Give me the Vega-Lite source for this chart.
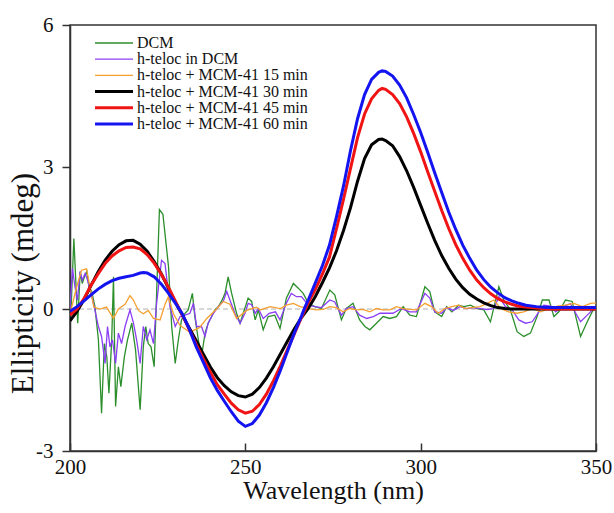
{
  "$schema": "https://vega.github.io/schema/vega-lite/v6.json",
  "width": 526,
  "height": 426,
  "autosize": {"type": "none"},
  "padding": {"left": 70, "top": 25, "right": 18, "bottom": 62},
  "background": "white",
  "config": {
    "view": {"stroke": "#333333", "strokeWidth": 1.5},
    "axis": {"labelFont": "Liberation Serif", "titleFont": "Liberation Serif", "labelColor": "#111111", "titleColor": "#111111", "titleFontWeight": "normal", "domainColor": "#333333", "tickColor": "#333333", "domainWidth": 1.5, "tickWidth": 1.5, "grid": false, "labelFlush": false},
    "legend": {"orient": "none", "legendX": 36, "legendY": 10, "padding": 0, "labelFont": "Liberation Serif", "labelFontSize": 16, "labelColor": "#111111", "labelOffset": 15, "rowPadding": 0.2, "symbolType": "M-4,0H4", "symbolSize": 90, "labelLimit": 400}
  },
  "datasets": {
    "zero": [{"y": 0}],
    "cd": [
      {"s":"DCM","x":200.0,"y":0.0},{"s":"DCM","x":200.3,"y":-0.02},{"s":"DCM","x":201.1,"y":1.49},{"s":"DCM","x":202.2,"y":-0.3},{"s":"DCM","x":202.9,"y":0.79},{"s":"DCM","x":203.5,"y":0.54},{"s":"DCM","x":204.1,"y":0.68},{"s":"DCM","x":204.8,"y":0.79},{"s":"DCM","x":205.4,"y":0.47},{"s":"DCM","x":206.2,"y":0.37},{"s":"DCM","x":207.1,"y":0.05},{"s":"DCM","x":208.1,"y":-0.65},{"s":"DCM","x":209.0,"y":-2.2},{"s":"DCM","x":209.8,"y":-0.73},{"s":"DCM","x":210.5,"y":-1.01},{"s":"DCM","x":211.1,"y":-1.78},{"s":"DCM","x":211.9,"y":-0.65},{"s":"DCM","x":212.4,"y":0.68},{"s":"DCM","x":213.0,"y":-2.06},{"s":"DCM","x":213.8,"y":-1.22},{"s":"DCM","x":214.5,"y":-1.64},{"s":"DCM","x":215.5,"y":-1.01},{"s":"DCM","x":216.4,"y":-0.65},{"s":"DCM","x":217.6,"y":-0.3},{"s":"DCM","x":218.7,"y":-0.87},{"s":"DCM","x":220.0,"y":-2.13},{"s":"DCM","x":220.9,"y":-0.8},{"s":"DCM","x":221.6,"y":-0.37},{"s":"DCM","x":222.3,"y":-0.73},{"s":"DCM","x":223.1,"y":-0.8},{"s":"DCM","x":224.0,"y":-1.22},{"s":"DCM","x":225.5,"y":2.1},{"s":"DCM","x":226.5,"y":2.0},{"s":"DCM","x":228.1,"y":0.89},{"s":"DCM","x":229.0,"y":-0.37},{"s":"DCM","x":230.0,"y":-1.15},{"s":"DCM","x":230.9,"y":-0.65},{"s":"DCM","x":231.8,"y":-0.23},{"s":"DCM","x":232.8,"y":-0.09},{"s":"DCM","x":233.7,"y":-0.02},{"s":"DCM","x":234.9,"y":0.33},{"s":"DCM","x":235.6,"y":-0.16},{"s":"DCM","x":236.6,"y":-0.65},{"s":"DCM","x":237.5,"y":-1.01},{"s":"DCM","x":238.5,"y":-0.51},{"s":"DCM","x":239.4,"y":-0.3},{"s":"DCM","x":240.4,"y":-0.16},{"s":"DCM","x":241.3,"y":-0.02},{"s":"DCM","x":242.3,"y":0.05},{"s":"DCM","x":243.2,"y":0.16},{"s":"DCM","x":244.2,"y":0.33},{"s":"DCM","x":245.1,"y":0.68},{"s":"DCM","x":246.1,"y":0.33},{"s":"DCM","x":247.5,"y":-0.09},{"s":"DCM","x":248.5,"y":-0.3},{"s":"DCM","x":249.4,"y":-0.09},{"s":"DCM","x":250.8,"y":0.23},{"s":"DCM","x":251.8,"y":0.16},{"s":"DCM","x":252.8,"y":-0.23},{"s":"DCM","x":253.7,"y":-0.02},{"s":"DCM","x":255.1,"y":-0.44},{"s":"DCM","x":256.5,"y":-0.16},{"s":"DCM","x":258.4,"y":-0.13},{"s":"DCM","x":259.9,"y":-0.41},{"s":"DCM","x":261.7,"y":0.23},{"s":"DCM","x":263.7,"y":0.54},{"s":"DCM","x":265.1,"y":0.44},{"s":"DCM","x":266.5,"y":0.33},{"s":"DCM","x":268.0,"y":0.12},{"s":"DCM","x":269.8,"y":0.05},{"s":"DCM","x":271.7,"y":0.01},{"s":"DCM","x":274.1,"y":0.4},{"s":"DCM","x":275.5,"y":0.3},{"s":"DCM","x":277.4,"y":-0.23},{"s":"DCM","x":278.8,"y":0.01},{"s":"DCM","x":280.7,"y":0.12},{"s":"DCM","x":282.6,"y":-0.23},{"s":"DCM","x":284.1,"y":-0.37},{"s":"DCM","x":285.5,"y":-0.44},{"s":"DCM","x":287.4,"y":-0.3},{"s":"DCM","x":289.3,"y":-0.16},{"s":"DCM","x":291.2,"y":-0.2},{"s":"DCM","x":293.1,"y":-0.16},{"s":"DCM","x":295.0,"y":0.05},{"s":"DCM","x":296.9,"y":-0.13},{"s":"DCM","x":298.8,"y":-0.16},{"s":"DCM","x":301.2,"y":0.47},{"s":"DCM","x":302.6,"y":0.37},{"s":"DCM","x":304.0,"y":-0.06},{"s":"DCM","x":306.0,"y":-0.16},{"s":"DCM","x":307.4,"y":0.05},{"s":"DCM","x":308.9,"y":-0.06},{"s":"DCM","x":310.8,"y":0.08},{"s":"DCM","x":312.3,"y":0.05},{"s":"DCM","x":314.2,"y":0.08},{"s":"DCM","x":316.1,"y":0.01},{"s":"DCM","x":318.0,"y":-0.02},{"s":"DCM","x":319.9,"y":-0.27},{"s":"DCM","x":322.3,"y":0.47},{"s":"DCM","x":323.7,"y":0.19},{"s":"DCM","x":325.6,"y":-0.02},{"s":"DCM","x":327.5,"y":-0.48},{"s":"DCM","x":329.4,"y":-0.58},{"s":"DCM","x":331.3,"y":-0.51},{"s":"DCM","x":333.2,"y":-0.16},{"s":"DCM","x":334.7,"y":0.19},{"s":"DCM","x":336.6,"y":0.19},{"s":"DCM","x":338.0,"y":-0.16},{"s":"DCM","x":339.4,"y":-0.06},{"s":"DCM","x":341.3,"y":0.19},{"s":"DCM","x":343.2,"y":0.16},{"s":"DCM","x":345.6,"y":-0.58},{"s":"DCM","x":347.5,"y":-0.27},{"s":"DCM","x":348.9,"y":-0.06},{"s":"DCM","x":350.0,"y":0.05},

      {"s":"h-teloc in DCM","x":200.0,"y":0.0},{"s":"h-teloc in DCM","x":200.7,"y":0.86},{"s":"h-teloc in DCM","x":201.4,"y":0.47},{"s":"h-teloc in DCM","x":202.1,"y":0.19},{"s":"h-teloc in DCM","x":202.9,"y":0.79},{"s":"h-teloc in DCM","x":203.5,"y":0.61},{"s":"h-teloc in DCM","x":204.3,"y":0.75},{"s":"h-teloc in DCM","x":205.0,"y":0.61},{"s":"h-teloc in DCM","x":206.0,"y":0.33},{"s":"h-teloc in DCM","x":206.9,"y":0.05},{"s":"h-teloc in DCM","x":208.1,"y":-0.37},{"s":"h-teloc in DCM","x":209.0,"y":-0.58},{"s":"h-teloc in DCM","x":210.0,"y":-1.15},{"s":"h-teloc in DCM","x":210.7,"y":-0.37},{"s":"h-teloc in DCM","x":211.4,"y":-0.8},{"s":"h-teloc in DCM","x":212.1,"y":-0.65},{"s":"h-teloc in DCM","x":213.0,"y":-1.15},{"s":"h-teloc in DCM","x":213.8,"y":-0.51},{"s":"h-teloc in DCM","x":214.7,"y":-0.73},{"s":"h-teloc in DCM","x":215.7,"y":-0.37},{"s":"h-teloc in DCM","x":217.1,"y":-0.02},{"s":"h-teloc in DCM","x":218.1,"y":-0.3},{"s":"h-teloc in DCM","x":219.0,"y":-0.65},{"s":"h-teloc in DCM","x":220.0,"y":-1.15},{"s":"h-teloc in DCM","x":220.9,"y":-0.37},{"s":"h-teloc in DCM","x":221.9,"y":-0.65},{"s":"h-teloc in DCM","x":222.8,"y":-0.44},{"s":"h-teloc in DCM","x":223.8,"y":-0.73},{"s":"h-teloc in DCM","x":224.7,"y":0.12},{"s":"h-teloc in DCM","x":226.1,"y":1.03},{"s":"h-teloc in DCM","x":227.1,"y":0.96},{"s":"h-teloc in DCM","x":228.5,"y":0.05},{"s":"h-teloc in DCM","x":230.0,"y":-0.37},{"s":"h-teloc in DCM","x":231.4,"y":-0.16},{"s":"h-teloc in DCM","x":232.8,"y":-0.13},{"s":"h-teloc in DCM","x":234.2,"y":-0.09},{"s":"h-teloc in DCM","x":235.2,"y":0.12},{"s":"h-teloc in DCM","x":236.1,"y":-0.37},{"s":"h-teloc in DCM","x":237.5,"y":-0.37},{"s":"h-teloc in DCM","x":238.5,"y":-0.58},{"s":"h-teloc in DCM","x":239.4,"y":-0.3},{"s":"h-teloc in DCM","x":240.9,"y":-0.09},{"s":"h-teloc in DCM","x":242.3,"y":0.05},{"s":"h-teloc in DCM","x":243.7,"y":0.16},{"s":"h-teloc in DCM","x":244.7,"y":0.37},{"s":"h-teloc in DCM","x":245.6,"y":0.19},{"s":"h-teloc in DCM","x":247.0,"y":-0.09},{"s":"h-teloc in DCM","x":248.5,"y":-0.3},{"s":"h-teloc in DCM","x":249.9,"y":-0.09},{"s":"h-teloc in DCM","x":250.8,"y":0.12},{"s":"h-teloc in DCM","x":251.8,"y":0.09},{"s":"h-teloc in DCM","x":252.8,"y":-0.09},{"s":"h-teloc in DCM","x":253.7,"y":0.01},{"s":"h-teloc in DCM","x":255.1,"y":-0.2},{"s":"h-teloc in DCM","x":256.8,"y":-0.09},{"s":"h-teloc in DCM","x":258.6,"y":-0.06},{"s":"h-teloc in DCM","x":259.9,"y":-0.23},{"s":"h-teloc in DCM","x":261.7,"y":0.12},{"s":"h-teloc in DCM","x":263.1,"y":0.33},{"s":"h-teloc in DCM","x":264.6,"y":0.26},{"s":"h-teloc in DCM","x":266.0,"y":0.26},{"s":"h-teloc in DCM","x":268.0,"y":0.08},{"s":"h-teloc in DCM","x":269.8,"y":0.05},{"s":"h-teloc in DCM","x":271.7,"y":0.03},{"s":"h-teloc in DCM","x":274.1,"y":0.19},{"s":"h-teloc in DCM","x":275.5,"y":0.15},{"s":"h-teloc in DCM","x":277.4,"y":-0.13},{"s":"h-teloc in DCM","x":278.8,"y":0.01},{"s":"h-teloc in DCM","x":280.7,"y":0.05},{"s":"h-teloc in DCM","x":282.6,"y":-0.13},{"s":"h-teloc in DCM","x":284.6,"y":-0.2},{"s":"h-teloc in DCM","x":286.5,"y":-0.16},{"s":"h-teloc in DCM","x":288.4,"y":-0.09},{"s":"h-teloc in DCM","x":290.2,"y":-0.09},{"s":"h-teloc in DCM","x":292.1,"y":-0.09},{"s":"h-teloc in DCM","x":294.5,"y":0.01},{"s":"h-teloc in DCM","x":296.9,"y":-0.06},{"s":"h-teloc in DCM","x":298.8,"y":-0.06},{"s":"h-teloc in DCM","x":301.2,"y":0.33},{"s":"h-teloc in DCM","x":302.6,"y":0.23},{"s":"h-teloc in DCM","x":304.0,"y":-0.06},{"s":"h-teloc in DCM","x":306.0,"y":-0.09},{"s":"h-teloc in DCM","x":307.4,"y":0.03},{"s":"h-teloc in DCM","x":309.3,"y":-0.03},{"s":"h-teloc in DCM","x":311.2,"y":0.05},{"s":"h-teloc in DCM","x":313.2,"y":0.01},{"s":"h-teloc in DCM","x":315.1,"y":0.03},{"s":"h-teloc in DCM","x":317.0,"y":0.01},{"s":"h-teloc in DCM","x":318.9,"y":-0.01},{"s":"h-teloc in DCM","x":320.9,"y":0.01},{"s":"h-teloc in DCM","x":322.3,"y":0.26},{"s":"h-teloc in DCM","x":324.2,"y":0.05},{"s":"h-teloc in DCM","x":326.1,"y":-0.02},{"s":"h-teloc in DCM","x":328.0,"y":-0.23},{"s":"h-teloc in DCM","x":329.9,"y":-0.3},{"s":"h-teloc in DCM","x":331.8,"y":-0.27},{"s":"h-teloc in DCM","x":333.7,"y":-0.06},{"s":"h-teloc in DCM","x":335.1,"y":0.08},{"s":"h-teloc in DCM","x":337.1,"y":0.06},{"s":"h-teloc in DCM","x":338.5,"y":-0.06},{"s":"h-teloc in DCM","x":340.4,"y":0.05},{"s":"h-teloc in DCM","x":342.7,"y":0.11},{"s":"h-teloc in DCM","x":345.6,"y":-0.27},{"s":"h-teloc in DCM","x":347.5,"y":-0.13},{"s":"h-teloc in DCM","x":349.4,"y":0.01},{"s":"h-teloc in DCM","x":350.0,"y":0.03},

      {"s":"h-teloc + MCM-41 15 min","x":200.0,"y":-0.03},{"s":"h-teloc + MCM-41 15 min","x":200.3,"y":-0.02},{"s":"h-teloc + MCM-41 15 min","x":201.9,"y":0.47},{"s":"h-teloc + MCM-41 15 min","x":203.3,"y":0.82},{"s":"h-teloc + MCM-41 15 min","x":204.7,"y":0.85},{"s":"h-teloc + MCM-41 15 min","x":205.9,"y":0.39},{"s":"h-teloc + MCM-41 15 min","x":206.8,"y":0.04},{"s":"h-teloc + MCM-41 15 min","x":208.6,"y":0.0},{"s":"h-teloc + MCM-41 15 min","x":210.4,"y":0.04},{"s":"h-teloc + MCM-41 15 min","x":212.4,"y":-0.2},{"s":"h-teloc + MCM-41 15 min","x":213.8,"y":0.0},{"s":"h-teloc + MCM-41 15 min","x":215.7,"y":0.1},{"s":"h-teloc + MCM-41 15 min","x":217.1,"y":0.28},{"s":"h-teloc + MCM-41 15 min","x":218.0,"y":0.2},{"s":"h-teloc + MCM-41 15 min","x":219.5,"y":-0.03},{"s":"h-teloc + MCM-41 15 min","x":220.9,"y":-0.1},{"s":"h-teloc + MCM-41 15 min","x":222.3,"y":-0.03},{"s":"h-teloc + MCM-41 15 min","x":223.8,"y":-0.2},{"s":"h-teloc + MCM-41 15 min","x":225.7,"y":-0.23},{"s":"h-teloc + MCM-41 15 min","x":227.1,"y":0.1},{"s":"h-teloc + MCM-41 15 min","x":228.0,"y":0.25},{"s":"h-teloc + MCM-41 15 min","x":229.5,"y":-0.1},{"s":"h-teloc + MCM-41 15 min","x":231.4,"y":-0.35},{"s":"h-teloc + MCM-41 15 min","x":234.2,"y":-0.49},{"s":"h-teloc + MCM-41 15 min","x":237.0,"y":-0.39},{"s":"h-teloc + MCM-41 15 min","x":239.0,"y":-0.2},{"s":"h-teloc + MCM-41 15 min","x":241.8,"y":0.0},{"s":"h-teloc + MCM-41 15 min","x":243.7,"y":0.16},{"s":"h-teloc + MCM-41 15 min","x":245.6,"y":0.1},{"s":"h-teloc + MCM-41 15 min","x":247.5,"y":-0.2},{"s":"h-teloc + MCM-41 15 min","x":250.4,"y":-0.03},{"s":"h-teloc + MCM-41 15 min","x":253.2,"y":0.04},{"s":"h-teloc + MCM-41 15 min","x":254.2,"y":-0.02},{"s":"h-teloc + MCM-41 15 min","x":257.1,"y":0.05},{"s":"h-teloc + MCM-41 15 min","x":260.0,"y":0.01},{"s":"h-teloc + MCM-41 15 min","x":261.7,"y":0.08},{"s":"h-teloc + MCM-41 15 min","x":263.7,"y":0.12},{"s":"h-teloc + MCM-41 15 min","x":265.6,"y":0.05},{"s":"h-teloc + MCM-41 15 min","x":268.0,"y":0.01},{"s":"h-teloc + MCM-41 15 min","x":270.3,"y":-0.02},{"s":"h-teloc + MCM-41 15 min","x":272.2,"y":-0.01},{"s":"h-teloc + MCM-41 15 min","x":274.1,"y":0.05},{"s":"h-teloc + MCM-41 15 min","x":276.0,"y":0.03},{"s":"h-teloc + MCM-41 15 min","x":277.9,"y":-0.06},{"s":"h-teloc + MCM-41 15 min","x":279.8,"y":0.01},{"s":"h-teloc + MCM-41 15 min","x":281.7,"y":-0.02},{"s":"h-teloc + MCM-41 15 min","x":283.6,"y":-0.01},{"s":"h-teloc + MCM-41 15 min","x":285.5,"y":-0.06},{"s":"h-teloc + MCM-41 15 min","x":287.4,"y":0.01},{"s":"h-teloc + MCM-41 15 min","x":289.3,"y":-0.02},{"s":"h-teloc + MCM-41 15 min","x":291.2,"y":-0.02},{"s":"h-teloc + MCM-41 15 min","x":293.1,"y":0.05},{"s":"h-teloc + MCM-41 15 min","x":295.0,"y":0.01},{"s":"h-teloc + MCM-41 15 min","x":296.9,"y":-0.01},{"s":"h-teloc + MCM-41 15 min","x":298.8,"y":-0.02},{"s":"h-teloc + MCM-41 15 min","x":301.2,"y":0.12},{"s":"h-teloc + MCM-41 15 min","x":303.1,"y":0.05},{"s":"h-teloc + MCM-41 15 min","x":305.0,"y":-0.09},{"s":"h-teloc + MCM-41 15 min","x":306.9,"y":0.01},{"s":"h-teloc + MCM-41 15 min","x":308.9,"y":0.05},{"s":"h-teloc + MCM-41 15 min","x":310.8,"y":0.08},{"s":"h-teloc + MCM-41 15 min","x":312.7,"y":0.01},{"s":"h-teloc + MCM-41 15 min","x":314.6,"y":0.03},{"s":"h-teloc + MCM-41 15 min","x":317.0,"y":0.05},{"s":"h-teloc + MCM-41 15 min","x":318.9,"y":0.12},{"s":"h-teloc + MCM-41 15 min","x":320.9,"y":0.19},{"s":"h-teloc + MCM-41 15 min","x":322.8,"y":0.01},{"s":"h-teloc + MCM-41 15 min","x":325.1,"y":-0.06},{"s":"h-teloc + MCM-41 15 min","x":327.5,"y":-0.09},{"s":"h-teloc + MCM-41 15 min","x":329.4,"y":-0.06},{"s":"h-teloc + MCM-41 15 min","x":331.8,"y":0.01},{"s":"h-teloc + MCM-41 15 min","x":334.2,"y":-0.06},{"s":"h-teloc + MCM-41 15 min","x":336.6,"y":0.01},{"s":"h-teloc + MCM-41 15 min","x":339.0,"y":0.06},{"s":"h-teloc + MCM-41 15 min","x":341.3,"y":0.08},{"s":"h-teloc + MCM-41 15 min","x":343.7,"y":0.12},{"s":"h-teloc + MCM-41 15 min","x":346.1,"y":0.05},{"s":"h-teloc + MCM-41 15 min","x":348.5,"y":0.12},{"s":"h-teloc + MCM-41 15 min","x":350.0,"y":0.13},

      {"s":"h-teloc + MCM-41 30 min","x":200,"y":-0.25},{"s":"h-teloc + MCM-41 30 min","x":202,"y":-0.05},{"s":"h-teloc + MCM-41 30 min","x":204,"y":0.2},{"s":"h-teloc + MCM-41 30 min","x":206,"y":0.5},{"s":"h-teloc + MCM-41 30 min","x":208,"y":0.78},{"s":"h-teloc + MCM-41 30 min","x":210,"y":1.03},{"s":"h-teloc + MCM-41 30 min","x":212,"y":1.22},{"s":"h-teloc + MCM-41 30 min","x":214,"y":1.36},{"s":"h-teloc + MCM-41 30 min","x":216,"y":1.44},{"s":"h-teloc + MCM-41 30 min","x":218,"y":1.45},{"s":"h-teloc + MCM-41 30 min","x":220,"y":1.37},{"s":"h-teloc + MCM-41 30 min","x":222,"y":1.22},{"s":"h-teloc + MCM-41 30 min","x":224,"y":1.0},{"s":"h-teloc + MCM-41 30 min","x":226,"y":0.75},{"s":"h-teloc + MCM-41 30 min","x":228,"y":0.45},{"s":"h-teloc + MCM-41 30 min","x":230,"y":0.15},{"s":"h-teloc + MCM-41 30 min","x":232,"y":-0.12},{"s":"h-teloc + MCM-41 30 min","x":234,"y":-0.4},{"s":"h-teloc + MCM-41 30 min","x":236,"y":-0.67},{"s":"h-teloc + MCM-41 30 min","x":238,"y":-0.95},{"s":"h-teloc + MCM-41 30 min","x":240,"y":-1.22},{"s":"h-teloc + MCM-41 30 min","x":242,"y":-1.45},{"s":"h-teloc + MCM-41 30 min","x":244,"y":-1.62},{"s":"h-teloc + MCM-41 30 min","x":246,"y":-1.75},{"s":"h-teloc + MCM-41 30 min","x":248,"y":-1.83},{"s":"h-teloc + MCM-41 30 min","x":250,"y":-1.86},{"s":"h-teloc + MCM-41 30 min","x":252,"y":-1.8},{"s":"h-teloc + MCM-41 30 min","x":254,"y":-1.66},{"s":"h-teloc + MCM-41 30 min","x":256,"y":-1.46},{"s":"h-teloc + MCM-41 30 min","x":258,"y":-1.22},{"s":"h-teloc + MCM-41 30 min","x":260,"y":-0.95},{"s":"h-teloc + MCM-41 30 min","x":262,"y":-0.68},{"s":"h-teloc + MCM-41 30 min","x":264,"y":-0.42},{"s":"h-teloc + MCM-41 30 min","x":266,"y":-0.18},{"s":"h-teloc + MCM-41 30 min","x":268,"y":0.02},{"s":"h-teloc + MCM-41 30 min","x":270,"y":0.27},{"s":"h-teloc + MCM-41 30 min","x":272,"y":0.56},{"s":"h-teloc + MCM-41 30 min","x":274,"y":0.87},{"s":"h-teloc + MCM-41 30 min","x":276,"y":1.23},{"s":"h-teloc + MCM-41 30 min","x":278,"y":1.66},{"s":"h-teloc + MCM-41 30 min","x":280,"y":2.14},{"s":"h-teloc + MCM-41 30 min","x":282,"y":2.7},{"s":"h-teloc + MCM-41 30 min","x":284,"y":3.18},{"s":"h-teloc + MCM-41 30 min","x":286,"y":3.47},{"s":"h-teloc + MCM-41 30 min","x":288,"y":3.58},{"s":"h-teloc + MCM-41 30 min","x":289,"y":3.59},{"s":"h-teloc + MCM-41 30 min","x":290,"y":3.56},{"s":"h-teloc + MCM-41 30 min","x":292,"y":3.45},{"s":"h-teloc + MCM-41 30 min","x":294,"y":3.22},{"s":"h-teloc + MCM-41 30 min","x":296,"y":2.92},{"s":"h-teloc + MCM-41 30 min","x":298,"y":2.57},{"s":"h-teloc + MCM-41 30 min","x":300,"y":2.19},{"s":"h-teloc + MCM-41 30 min","x":302,"y":1.81},{"s":"h-teloc + MCM-41 30 min","x":304,"y":1.45},{"s":"h-teloc + MCM-41 30 min","x":306,"y":1.13},{"s":"h-teloc + MCM-41 30 min","x":308,"y":0.86},{"s":"h-teloc + MCM-41 30 min","x":310,"y":0.63},{"s":"h-teloc + MCM-41 30 min","x":312,"y":0.45},{"s":"h-teloc + MCM-41 30 min","x":314,"y":0.31},{"s":"h-teloc + MCM-41 30 min","x":316,"y":0.21},{"s":"h-teloc + MCM-41 30 min","x":318,"y":0.13},{"s":"h-teloc + MCM-41 30 min","x":320,"y":0.07},{"s":"h-teloc + MCM-41 30 min","x":322,"y":0.03},{"s":"h-teloc + MCM-41 30 min","x":324,"y":0.01},{"s":"h-teloc + MCM-41 30 min","x":326,"y":0.0},{"s":"h-teloc + MCM-41 30 min","x":335,"y":0.0},{"s":"h-teloc + MCM-41 30 min","x":350,"y":0.0},

      {"s":"h-teloc + MCM-41 45 min","x":200,"y":-0.13},{"s":"h-teloc + MCM-41 45 min","x":202,"y":0.0},{"s":"h-teloc + MCM-41 45 min","x":204,"y":0.22},{"s":"h-teloc + MCM-41 45 min","x":206,"y":0.5},{"s":"h-teloc + MCM-41 45 min","x":208,"y":0.74},{"s":"h-teloc + MCM-41 45 min","x":210,"y":0.96},{"s":"h-teloc + MCM-41 45 min","x":212,"y":1.12},{"s":"h-teloc + MCM-41 45 min","x":214,"y":1.23},{"s":"h-teloc + MCM-41 45 min","x":216,"y":1.3},{"s":"h-teloc + MCM-41 45 min","x":218,"y":1.31},{"s":"h-teloc + MCM-41 45 min","x":220,"y":1.27},{"s":"h-teloc + MCM-41 45 min","x":222,"y":1.15},{"s":"h-teloc + MCM-41 45 min","x":224,"y":0.97},{"s":"h-teloc + MCM-41 45 min","x":226,"y":0.74},{"s":"h-teloc + MCM-41 45 min","x":228,"y":0.47},{"s":"h-teloc + MCM-41 45 min","x":230,"y":0.17},{"s":"h-teloc + MCM-41 45 min","x":232,"y":-0.12},{"s":"h-teloc + MCM-41 45 min","x":234,"y":-0.43},{"s":"h-teloc + MCM-41 45 min","x":236,"y":-0.75},{"s":"h-teloc + MCM-41 45 min","x":238,"y":-1.05},{"s":"h-teloc + MCM-41 45 min","x":240,"y":-1.33},{"s":"h-teloc + MCM-41 45 min","x":242,"y":-1.6},{"s":"h-teloc + MCM-41 45 min","x":244,"y":-1.8},{"s":"h-teloc + MCM-41 45 min","x":246,"y":-1.99},{"s":"h-teloc + MCM-41 45 min","x":248,"y":-2.13},{"s":"h-teloc + MCM-41 45 min","x":250,"y":-2.2},{"s":"h-teloc + MCM-41 45 min","x":252,"y":-2.16},{"s":"h-teloc + MCM-41 45 min","x":254,"y":-2.02},{"s":"h-teloc + MCM-41 45 min","x":256,"y":-1.8},{"s":"h-teloc + MCM-41 45 min","x":258,"y":-1.52},{"s":"h-teloc + MCM-41 45 min","x":260,"y":-1.2},{"s":"h-teloc + MCM-41 45 min","x":262,"y":-0.86},{"s":"h-teloc + MCM-41 45 min","x":264,"y":-0.52},{"s":"h-teloc + MCM-41 45 min","x":266,"y":-0.18},{"s":"h-teloc + MCM-41 45 min","x":268,"y":0.14},{"s":"h-teloc + MCM-41 45 min","x":270,"y":0.42},{"s":"h-teloc + MCM-41 45 min","x":272,"y":0.74},{"s":"h-teloc + MCM-41 45 min","x":274,"y":1.1},{"s":"h-teloc + MCM-41 45 min","x":276,"y":1.7},{"s":"h-teloc + MCM-41 45 min","x":278,"y":2.32},{"s":"h-teloc + MCM-41 45 min","x":280,"y":2.97},{"s":"h-teloc + MCM-41 45 min","x":282,"y":3.62},{"s":"h-teloc + MCM-41 45 min","x":284,"y":4.12},{"s":"h-teloc + MCM-41 45 min","x":286,"y":4.44},{"s":"h-teloc + MCM-41 45 min","x":288,"y":4.62},{"s":"h-teloc + MCM-41 45 min","x":289,"y":4.66},{"s":"h-teloc + MCM-41 45 min","x":290,"y":4.64},{"s":"h-teloc + MCM-41 45 min","x":292,"y":4.53},{"s":"h-teloc + MCM-41 45 min","x":294,"y":4.34},{"s":"h-teloc + MCM-41 45 min","x":296,"y":4.06},{"s":"h-teloc + MCM-41 45 min","x":298,"y":3.71},{"s":"h-teloc + MCM-41 45 min","x":300,"y":3.32},{"s":"h-teloc + MCM-41 45 min","x":302,"y":2.9},{"s":"h-teloc + MCM-41 45 min","x":304,"y":2.49},{"s":"h-teloc + MCM-41 45 min","x":306,"y":2.08},{"s":"h-teloc + MCM-41 45 min","x":308,"y":1.7},{"s":"h-teloc + MCM-41 45 min","x":310,"y":1.36},{"s":"h-teloc + MCM-41 45 min","x":312,"y":1.07},{"s":"h-teloc + MCM-41 45 min","x":314,"y":0.82},{"s":"h-teloc + MCM-41 45 min","x":316,"y":0.61},{"s":"h-teloc + MCM-41 45 min","x":318,"y":0.45},{"s":"h-teloc + MCM-41 45 min","x":320,"y":0.32},{"s":"h-teloc + MCM-41 45 min","x":322,"y":0.22},{"s":"h-teloc + MCM-41 45 min","x":324,"y":0.15},{"s":"h-teloc + MCM-41 45 min","x":326,"y":0.1},{"s":"h-teloc + MCM-41 45 min","x":328,"y":0.06},{"s":"h-teloc + MCM-41 45 min","x":330,"y":0.04},{"s":"h-teloc + MCM-41 45 min","x":333,"y":0.02},{"s":"h-teloc + MCM-41 45 min","x":336,"y":0.0},{"s":"h-teloc + MCM-41 45 min","x":350,"y":0.0},

      {"s":"h-teloc + MCM-41 60 min","x":200,"y":-0.05},{"s":"h-teloc + MCM-41 60 min","x":202,"y":0.05},{"s":"h-teloc + MCM-41 60 min","x":204,"y":0.17},{"s":"h-teloc + MCM-41 60 min","x":206,"y":0.3},{"s":"h-teloc + MCM-41 60 min","x":208,"y":0.42},{"s":"h-teloc + MCM-41 60 min","x":210,"y":0.52},{"s":"h-teloc + MCM-41 60 min","x":212,"y":0.6},{"s":"h-teloc + MCM-41 60 min","x":214,"y":0.65},{"s":"h-teloc + MCM-41 60 min","x":216,"y":0.68},{"s":"h-teloc + MCM-41 60 min","x":218,"y":0.71},{"s":"h-teloc + MCM-41 60 min","x":220,"y":0.76},{"s":"h-teloc + MCM-41 60 min","x":221,"y":0.77},{"s":"h-teloc + MCM-41 60 min","x":222,"y":0.76},{"s":"h-teloc + MCM-41 60 min","x":224,"y":0.68},{"s":"h-teloc + MCM-41 60 min","x":226,"y":0.53},{"s":"h-teloc + MCM-41 60 min","x":228,"y":0.34},{"s":"h-teloc + MCM-41 60 min","x":230,"y":0.13},{"s":"h-teloc + MCM-41 60 min","x":232,"y":-0.1},{"s":"h-teloc + MCM-41 60 min","x":234,"y":-0.42},{"s":"h-teloc + MCM-41 60 min","x":236,"y":-0.8},{"s":"h-teloc + MCM-41 60 min","x":238,"y":-1.12},{"s":"h-teloc + MCM-41 60 min","x":240,"y":-1.45},{"s":"h-teloc + MCM-41 60 min","x":242,"y":-1.72},{"s":"h-teloc + MCM-41 60 min","x":244,"y":-1.95},{"s":"h-teloc + MCM-41 60 min","x":246,"y":-2.17},{"s":"h-teloc + MCM-41 60 min","x":248,"y":-2.37},{"s":"h-teloc + MCM-41 60 min","x":250,"y":-2.48},{"s":"h-teloc + MCM-41 60 min","x":252,"y":-2.42},{"s":"h-teloc + MCM-41 60 min","x":254,"y":-2.24},{"s":"h-teloc + MCM-41 60 min","x":256,"y":-1.98},{"s":"h-teloc + MCM-41 60 min","x":258,"y":-1.66},{"s":"h-teloc + MCM-41 60 min","x":260,"y":-1.3},{"s":"h-teloc + MCM-41 60 min","x":262,"y":-0.9},{"s":"h-teloc + MCM-41 60 min","x":264,"y":-0.5},{"s":"h-teloc + MCM-41 60 min","x":266,"y":-0.15},{"s":"h-teloc + MCM-41 60 min","x":267,"y":0.04},{"s":"h-teloc + MCM-41 60 min","x":268,"y":0.2},{"s":"h-teloc + MCM-41 60 min","x":270,"y":0.56},{"s":"h-teloc + MCM-41 60 min","x":272,"y":0.92},{"s":"h-teloc + MCM-41 60 min","x":274,"y":1.35},{"s":"h-teloc + MCM-41 60 min","x":276,"y":1.95},{"s":"h-teloc + MCM-41 60 min","x":278,"y":2.6},{"s":"h-teloc + MCM-41 60 min","x":280,"y":3.35},{"s":"h-teloc + MCM-41 60 min","x":282,"y":4.02},{"s":"h-teloc + MCM-41 60 min","x":284,"y":4.53},{"s":"h-teloc + MCM-41 60 min","x":286,"y":4.85},{"s":"h-teloc + MCM-41 60 min","x":288,"y":5.0},{"s":"h-teloc + MCM-41 60 min","x":289,"y":5.03},{"s":"h-teloc + MCM-41 60 min","x":290,"y":5.02},{"s":"h-teloc + MCM-41 60 min","x":292,"y":4.92},{"s":"h-teloc + MCM-41 60 min","x":294,"y":4.73},{"s":"h-teloc + MCM-41 60 min","x":296,"y":4.46},{"s":"h-teloc + MCM-41 60 min","x":298,"y":4.11},{"s":"h-teloc + MCM-41 60 min","x":300,"y":3.73},{"s":"h-teloc + MCM-41 60 min","x":302,"y":3.31},{"s":"h-teloc + MCM-41 60 min","x":304,"y":2.88},{"s":"h-teloc + MCM-41 60 min","x":306,"y":2.46},{"s":"h-teloc + MCM-41 60 min","x":308,"y":2.05},{"s":"h-teloc + MCM-41 60 min","x":310,"y":1.68},{"s":"h-teloc + MCM-41 60 min","x":312,"y":1.35},{"s":"h-teloc + MCM-41 60 min","x":314,"y":1.07},{"s":"h-teloc + MCM-41 60 min","x":316,"y":0.82},{"s":"h-teloc + MCM-41 60 min","x":318,"y":0.62},{"s":"h-teloc + MCM-41 60 min","x":320,"y":0.46},{"s":"h-teloc + MCM-41 60 min","x":322,"y":0.34},{"s":"h-teloc + MCM-41 60 min","x":324,"y":0.24},{"s":"h-teloc + MCM-41 60 min","x":326,"y":0.17},{"s":"h-teloc + MCM-41 60 min","x":328,"y":0.12},{"s":"h-teloc + MCM-41 60 min","x":330,"y":0.08},{"s":"h-teloc + MCM-41 60 min","x":333,"y":0.05},{"s":"h-teloc + MCM-41 60 min","x":336,"y":0.03},{"s":"h-teloc + MCM-41 60 min","x":350,"y":0.03}
    ]
  },
  "layer": [
    {
      "data": {"name": "zero"},
      "mark": {"type": "rule", "color": "#b0b0b0", "strokeWidth": 1, "strokeDash": [5, 3]},
      "encoding": {"y": {"field": "y", "type": "quantitative"}}
    },
    {
      "data": {"name": "cd"},
      "mark": {"type": "line", "clip": true},
      "encoding": {
        "x": {"field": "x", "type": "quantitative", "scale": {"domain": [200, 350], "nice": false, "zero": false},
              "axis": {"values": [200, 250, 300, 350], "title": "Wavelength (nm)", "titleFontSize": 26, "labelFontSize": 21, "tickSize": -8, "labelPadding": 13, "titlePadding": 0}},
        "y": {"field": "y", "type": "quantitative", "scale": {"domain": [-3, 6], "nice": false},
              "axis": {"values": [-3, 0, 3, 6], "labelExpr": "replace(datum.label, '\u2212', '-')", "title": "Ellipticity (mdeg)", "titleFontSize": 31, "labelFontSize": 21, "tickSize": 8, "labelPadding": 9, "titleAngle": -90, "titleX": -47, "titleY": 258, "titleAlign": "center", "titleBaseline": "middle"}},
        "color": {"field": "s", "type": "nominal", "title": null,
                  "scale": {"domain": ["DCM", "h-teloc in DCM", "h-teloc + MCM-41 15 min", "h-teloc + MCM-41 30 min", "h-teloc + MCM-41 45 min", "h-teloc + MCM-41 60 min"],
                            "range": ["#2b8f2b", "#8b3ff5", "#f5a030", "#000000", "#f01414", "#1414f0"]}},
        "strokeWidth": {"field": "s", "type": "ordinal", "title": null,
                  "scale": {"type": "ordinal", "domain": ["DCM", "h-teloc in DCM", "h-teloc + MCM-41 15 min", "h-teloc + MCM-41 30 min", "h-teloc + MCM-41 45 min", "h-teloc + MCM-41 60 min"],
                            "range": [1.3, 1.3, 1.3, 3, 3, 3]}}
      }
    }
  ]
}
